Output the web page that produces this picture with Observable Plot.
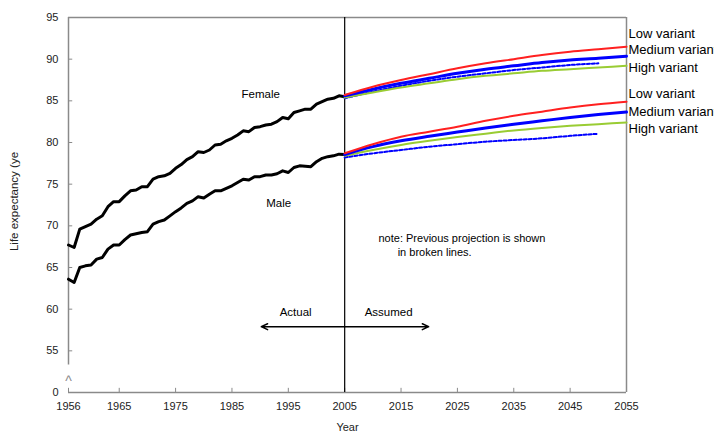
<!DOCTYPE html>
<html><head><meta charset="utf-8">
<script src="https://cdn.jsdelivr.net/npm/d3@7"></script>
<script src="https://cdn.jsdelivr.net/npm/@observablehq/plot@0.6"></script>
<style>
html,body{margin:0;padding:0;background:#fff;}
svg{overflow:hidden;}
</style>
</head><body><div id="chart"></div>
<script>
// ---- data ----
const actualYears = d3.range(1956, 2006);
const femaleActual = [67.7,67.4,69.6,69.9,70.2,70.8,71.2,72.3,72.9,72.9,73.6,74.2,74.3,74.7,74.7,75.6,75.9,76.0,76.3,76.9,77.35,77.95,78.3,78.9,78.8,79.1,79.7,79.8,80.2,80.5,80.9,81.4,81.3,81.8,81.9,82.1,82.2,82.5,83.0,82.85,83.6,83.8,84.0,84.0,84.6,84.9,85.2,85.3,85.6,85.5];
const maleActual   = [63.6,63.2,65.0,65.2,65.3,66.0,66.2,67.2,67.7,67.7,68.35,68.9,69.05,69.2,69.3,70.2,70.5,70.7,71.2,71.7,72.15,72.7,73.0,73.5,73.35,73.8,74.2,74.2,74.5,74.8,75.2,75.6,75.5,75.9,75.9,76.1,76.1,76.25,76.6,76.4,77.0,77.2,77.15,77.1,77.7,78.1,78.3,78.4,78.6,78.55];

const projYears = [2005,2010,2015,2020,2025,2030,2035,2040,2045,2050,2055];
const femaleLow    = [85.7,86.7,87.5,88.2,88.9,89.5,90.0,90.5,90.9,91.2,91.5];
const femaleMedium = [85.6,86.4,87.1,87.7,88.3,88.8,89.2,89.6,89.9,90.1,90.35];
const femaleHigh   = [85.4,86.0,86.6,87.1,87.6,88.0,88.3,88.6,88.8,89.0,89.2];
const maleLow      = [78.7,79.8,80.7,81.3,81.9,82.6,83.2,83.7,84.2,84.6,84.9];
const maleMedium   = [78.56,79.5,80.2,80.75,81.25,81.75,82.2,82.6,83.0,83.35,83.65];
const maleHigh     = [78.4,79.1,79.7,80.2,80.65,81.05,81.45,81.75,82.0,82.2,82.4];
const prevYears    = [2005,2010,2015,2020,2025,2030,2035,2040,2045,2050];
const femalePrev   = [85.3,86.1,86.8,87.4,87.9,88.3,88.7,89.0,89.3,89.5];
const malePrev     = [78.2,78.7,79.1,79.5,79.8,80.1,80.3,80.5,80.8,81.05];

const xTicks = [1956,1965,1975,1985,1995,2005,2015,2025,2035,2045,2055];
const yTicks = [50,55,60,65,70,75,80,85,90,95];

const variantLabels = [
  {text:"Low variant", year:2055, value:93.1},
  {text:"Medium variant", year:2055, value:91.15},
  {text:"High variant", year:2055, value:89.0},
  {text:"Low variant", year:2055, value:85.9},
  {text:"Medium variant", year:2055, value:83.7},
  {text:"High variant", year:2055, value:81.65}
];
const seriesLabels = [
  {text:"Female", year:1990.1, value:85.8},
  {text:"Male", year:1993.3, value:72.7}
];
const noteLines = [
  {text:"note: Previous projection is shown", year:2011, value:68.5},
  {text:"in broken lines.", year:2014.4, value:66.8}
];
const arrowLabels = [
  {text:"Actual", year:1996.3, value:59.6},
  {text:"Assumed", year:2012.8, value:59.6}
];
const arrows = [
  {x1:2005, x2:1990.2, y:57.9},
  {x1:2005, x2:2019.9, y:57.9}
];

// ---- build ----
const pts = (xs, ys) => xs.map((x,i)=>({x, y:ys[i]}));
const grey = "#8a8a8a";
const font = "Liberation Sans, Arial, sans-serif";

const plot = Plot.plot({
  width: 714,
  height: 437,
  marginLeft: 68,
  marginRight: 88,
  marginTop: 17,
  marginBottom: 45,
  style: {fontFamily: font, background: "#fff", overflow: "hidden"},
  x: {domain: [1956, 2055]},
  y: {domain: [50, 95]},
  marks: [
    // frame pieces
    Plot.ruleY([95], {stroke: grey, strokeWidth: 1.5}),
    Plot.ruleY([50], {stroke: grey, strokeWidth: 1.5}),
    Plot.ruleX([2055], {stroke: grey, strokeWidth: 1.5}),
    Plot.ruleX([1956], {y1: 53.3, y2: 95, stroke: grey, strokeWidth: 1.5}),
    Plot.text(["^"], {x: 1956, y: 51.3, text: d=>d, fill: grey, fontSize: 14}),
    // inside ticks
    Plot.ruleY(yTicks.filter(d=>d>50), {x1: 1956, x2: 1956.75, stroke: grey, strokeWidth: 1}),
    Plot.ruleX(xTicks, {y1: 50, y2: 50.5, stroke: grey, strokeWidth: 1}),
    Plot.axisY(yTicks, {tickSize: 0, tickPadding: 10, tickFormat: d => d===50 ? "0" : d, fontSize: 11, fill: "#222", label: null}),
    Plot.axisX(xTicks, {tickSize: 0, tickPadding: 10, tickFormat: d => String(d), fontSize: 11, fill: "#222", label: null}),
    Plot.text(["Year"], {frameAnchor: "bottom", dy: 38, text: d=>d, fontSize: 11, fill: "#222"}),
    Plot.text(["Life expectancy (ye"], {frameAnchor: "left", textAnchor: "middle", dx: -54, dy: -3.5, rotate: -90, text: d=>d, fontSize: 11.5, fill: "#222"}),
    // divider
    Plot.ruleX([2005], {y1: 50, y2: 95, stroke: "#000", strokeWidth: 1.2}),
    // actual
    Plot.line(pts(actualYears, femaleActual), {x:"x", y:"y", stroke:"#000", strokeWidth: 3}),
    Plot.line(pts(actualYears, maleActual), {x:"x", y:"y", stroke:"#000", strokeWidth: 3}),
    // previous projection
    Plot.line(pts(prevYears, femalePrev), {x:"x", y:"y", stroke:"#0000ff", strokeWidth: 2, strokeDasharray: "3,2", curve: "monotone-x"}),
    Plot.line(pts(prevYears, malePrev), {x:"x", y:"y", stroke:"#0000ff", strokeWidth: 2, strokeDasharray: "3,2", curve: "monotone-x"}),
    // projections
    Plot.line(pts(projYears, femaleHigh), {x:"x", y:"y", stroke:"#99cc33", strokeWidth: 2, curve: "monotone-x"}),
    Plot.line(pts(projYears, femaleMedium), {x:"x", y:"y", stroke:"#0000ff", strokeWidth: 3, curve: "monotone-x"}),
    Plot.line(pts(projYears, femaleLow), {x:"x", y:"y", stroke:"#ff2020", strokeWidth: 2, curve: "monotone-x"}),
    Plot.line(pts(projYears, maleHigh), {x:"x", y:"y", stroke:"#99cc33", strokeWidth: 2, curve: "monotone-x"}),
    Plot.line(pts(projYears, maleMedium), {x:"x", y:"y", stroke:"#0000ff", strokeWidth: 3, curve: "monotone-x"}),
    Plot.line(pts(projYears, maleLow), {x:"x", y:"y", stroke:"#ff2020", strokeWidth: 2, curve: "monotone-x"}),
    // labels
    Plot.text(variantLabels, {x:"year", y:"value", text:"text", textAnchor:"start", dx: 2, fontSize: 13, fill:"#000"}),
    Plot.text(seriesLabels, {x:"year", y:"value", text:"text", fontSize: 11.5, fill:"#000"}),
    Plot.text(noteLines, {x:"year", y:"value", text:"text", textAnchor:"start", fontSize: 11, fill:"#000"}),
    Plot.text(arrowLabels, {x:"year", y:"value", text:"text", fontSize: 11.5, fill:"#000"}),
    Plot.arrow(arrows, {x1:"x1", x2:"x2", y1:"y", y2:"y", stroke:"#000", strokeWidth: 1.5, headLength: 7, headAngle: 50})
  ]
});
document.getElementById("chart").appendChild(plot);
</script>
</body></html>
